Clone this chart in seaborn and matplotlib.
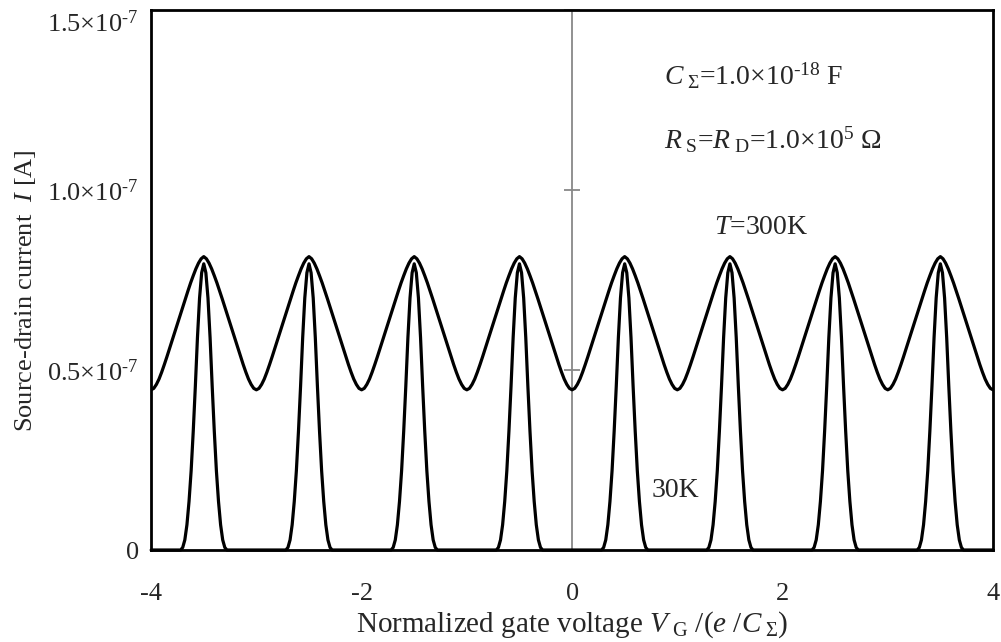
import numpy as np
import pandas as pd
import matplotlib
matplotlib.use("Agg")
import matplotlib.pyplot as plt
import seaborn as sns

# one period, current in units of 1e-7 A
# T=300K: distance from the minimum (0 .. 0.5, step 0.025)
half_300 = [0.445, 0.449, 0.460, 0.475, 0.494, 0.515, 0.537, 0.560, 0.583, 0.606,
            0.629, 0.652, 0.675, 0.698, 0.720, 0.742, 0.762, 0.781, 0.797, 0.809, 0.815]
step_300 = 0.025
# T=30K: distance from the peak (0 .. 0.22, step 0.02)
half_30 = [0.795, 0.770, 0.700, 0.590, 0.455, 0.330, 0.220, 0.135, 0.070, 0.028, 0.007, 0.0]
step_30 = 0.02

periods = [-4, -3, -2, -1, 0, 1, 2, 3]
x_range = [-4, 4]
HY = '\u2010'  # plain hyphen instead of the math minus
y_ticks = [0, 0.5e-7, 1.0e-7, 1.5e-7]
y_ticklabels = ['0', '$0.5{\\times}10^{' + HY + '7}$', '$1.0{\\times}10^{' + HY + '7}$',
                '$1.5{\\times}10^{' + HY + '7}$']
x_ticks = [-4, -2, 0, 2, 4]

# build the periodic curves from the read values
off_300 = np.arange(len(half_300)) * step_300
per_x_300 = np.concatenate([off_300, 1 - off_300[::-1][1:]])
per_y_300 = np.concatenate([half_300, half_300[::-1][1:]])
x300, y300 = [], []
for k in periods:
    xs, ys = per_x_300 + k, per_y_300
    if k != periods[0]:
        xs, ys = xs[1:], ys[1:]
    x300.extend(xs)
    y300.extend(ys)
df300 = pd.DataFrame({'x': x300, 'I': np.array(y300) * 1e-7})

off_30 = np.arange(len(half_30)) * step_30
pk_x = np.concatenate([-off_30[::-1], off_30[1:]])
pk_y = np.concatenate([half_30[::-1], half_30[1:]])
x30, y30 = [x_range[0]], [0.0]
for k in periods:
    x30.extend(pk_x + k + 0.5)
    y30.extend(pk_y)
x30.append(x_range[1])
y30.append(0.0)
df30 = pd.DataFrame({'x': x30, 'I': np.array(y30) * 1e-7})

sns.set_style('white')
plt.rcParams['font.family'] = ['Liberation Serif', 'DejaVu Serif']
plt.rcParams['mathtext.fontset'] = 'custom'
plt.rcParams['mathtext.rm'] = 'Liberation Serif'
plt.rcParams['mathtext.it'] = 'Liberation Serif:italic'
plt.rcParams['mathtext.bf'] = 'Liberation Serif:bold'

fig = plt.figure(figsize=(10.01, 6.42), dpi=100)
ax = fig.add_axes([0.151, 0.1433, 0.841, 0.8411])

# y axis crossing at x=0 (grey line with cross ticks)
ax.axvline(0, color='#888888', lw=1.3, zorder=1)
ax.plot([0] * len(y_ticks), y_ticks, ls='none', marker='_', ms=11, mew=1.3,
        color='#888888', zorder=1, clip_on=False)

sns.lineplot(data=df300, x='x', y='I', ax=ax, color='black', lw=2.3,
             estimator=None, sort=False, zorder=3)
sns.lineplot(data=df30, x='x', y='I', ax=ax, color='black', lw=2.3,
             estimator=None, sort=False, zorder=3, clip_on=False)

ax.set_xlim(x_range)
ax.set_ylim(0, 1.5e-7)
ax.set_xticks(x_ticks, [str(t) for t in x_ticks])
ax.set_yticks(y_ticks, y_ticklabels)
ax.tick_params(axis='x', direction='out', length=8, width=1.2, color='#888888',
               pad=16, labelsize=19)
ax.tick_params(axis='y', length=0, pad=9, labelsize=19)
ax.get_yticklabels()[-1].set_verticalalignment('top')

for s in ax.spines.values():
    s.set_visible(True)
    s.set_color('black')
    s.set_linewidth(2)

ax.set_xlabel('Normalized gate voltage $V_{\\ \\mathrm{G}}$ /($e$ /$C_{\\ \\Sigma}$)',
              fontsize=21, labelpad=3)
ax.set_ylabel('Source-drain current  $I$ [A]', fontsize=19)
ax.yaxis.set_label_coords(-0.135, 0.48)

ax.text(0.609, 0.878, '$C_{\\ \\Sigma}$=1.0$\\times$10$^{' + HY + '18}$ F',
        transform=ax.transAxes, fontsize=20, va='center')
ax.text(0.609, 0.760, '$R_{\\ \\mathrm{S}}$=$R_{\\ \\mathrm{D}}$=1.0$\\times$10$^{5}$ $\\Omega$',
        transform=ax.transAxes, fontsize=20, va='center')
ax.text(0.668, 0.598, '$T$=300K', transform=ax.transAxes, fontsize=20, va='center')
ax.text(0.595, 0.110, '30K', transform=ax.transAxes, fontsize=20, va='center')

fig.savefig('out.png', dpi=100)
